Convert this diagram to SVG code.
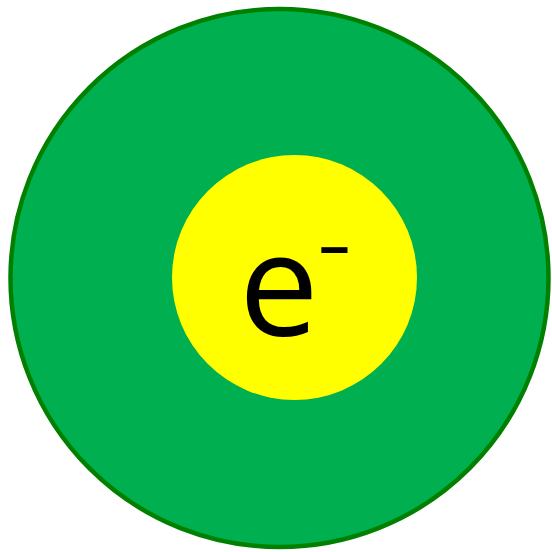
<svg xmlns="http://www.w3.org/2000/svg" width="552" height="552" viewBox="0 0 552 552">
<style>
.t{font-family:"Open Sans","Liberation Sans",sans-serif;fill:#000}
</style>
<rect width="552" height="552" fill="#fff"/>
<g id="atom">
<circle cx="279.5" cy="278" r="269" fill="#00B050" stroke="#008000" stroke-width="4.5"/>
</g>
<g id="electron">
<circle cx="294.5" cy="277.5" r="122.5" fill="#FFFF00"/>
<text class="t" x="239" y="336" font-size="142">e</text>
<text class="t" transform="translate(317,272) scale(1.35,1)" font-size="80">-</text>
</g>
</svg>
